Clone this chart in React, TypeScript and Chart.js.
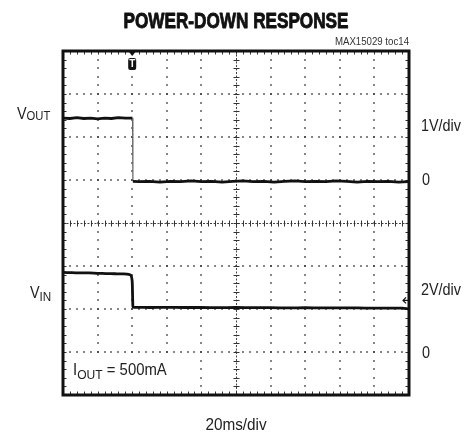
import React, { useEffect, useRef } from "react";
import { Chart, registerables } from "chart.js";

Chart.register(...registerables);

const timeMax = 200; // ms, 20ms/div x 10 div
const xDivisions = 10;
const yDivisions = 8;
const triggerTimeMs = 40;

const vOutTimeMs = [
  0, 4, 8, 12, 16, 20, 24, 28, 32, 36, 40.2,
  40.4, 44, 50, 56, 62, 68, 74, 80, 86, 92, 98, 104, 110, 116, 122, 128, 134,
  140, 146, 152, 158, 164, 170, 176, 182, 188, 194, 199.5,
];
const vOutVolts = [
  1.44, 1.43, 1.45, 1.43, 1.44, 1.42, 1.44, 1.43, 1.45, 1.44, 1.44,
  -0.03, -0.04, -0.03, -0.05, -0.03, -0.04, -0.02, -0.04, -0.03, -0.05, -0.03, -0.02, -0.04, -0.03, -0.05, -0.03, -0.02,
  -0.04, -0.03, -0.04, -0.02, -0.03, -0.05, -0.03, -0.04, -0.03, -0.05, -0.04,
];

const vInTimeMs = [
  0, 5, 10, 15, 20, 25, 30, 35, 38, 39.3, 40.0, 40.4,
  41, 45, 50, 60, 70, 80, 90, 100, 110, 120, 130, 140, 150, 160, 170, 180, 190, 196, 199.5,
];
const vInVolts = [
  3.7, 3.69, 3.68, 3.68, 3.66, 3.65, 3.64, 3.63, 3.61, 3.56, 3.3, 2.12,
  2.08, 2.08, 2.07, 2.08, 2.07, 2.07, 2.06, 2.07, 2.06, 2.06, 2.05, 2.06, 2.05, 2.05, 2.05, 2.04, 2.04, 2.04, 2.01,
];

// Channel scales (volts)
const vOutRange = { min: -5, max: 3 }; // 1V/div
const vInRange = { min: -2, max: 14 }; // 2V/div

// ---- Text ----
const titleText = "POWER-DOWN RESPONSE";
const figureIdText = "MAX15029 toc14";
const xScaleText = "20ms/div";
const vOutScaleText = "1V/div";
const vInScaleText = "2V/div";
const zeroText = "0";
const loadText = { main: "I", sub: "OUT", rest: " = 500mA" };
const vOutName = { main: "V", sub: "OUT" };
const vInName = { main: "V", sub: "IN" };

const FONT = "'Liberation Sans', Arial, sans-serif";
const fnt = (size: number, bold = false) => `${bold ? "bold " : ""}${size}px ${FONT}`;

type Part = { text: string; size: number; dy?: number; bold?: boolean };

// Condensed look: draw real text with a horizontal squeeze
function drawRich(
  ctx: CanvasRenderingContext2D,
  parts: Part[],
  x: number,
  y: number,
  align: "left" | "center" | "right" = "left",
  squeeze = 0.9,
  heavy = 0
) {
  let total = 0;
  for (const p of parts) {
    ctx.font = fnt(p.size, p.bold);
    total += ctx.measureText(p.text).width;
  }
  total *= squeeze;
  const start = align === "right" ? x - total : align === "center" ? x - total / 2 : x;
  ctx.save();
  ctx.translate(start, 0);
  ctx.scale(squeeze, 1);
  ctx.textAlign = "left";
  ctx.textBaseline = "alphabetic";
  ctx.strokeStyle = ctx.fillStyle as string;
  ctx.lineWidth = heavy;
  ctx.lineJoin = "round";
  let cx = 0;
  for (const p of parts) {
    ctx.font = fnt(p.size, p.bold);
    ctx.fillText(p.text, cx, y + (p.dy || 0));
    if (heavy > 0) ctx.strokeText(p.text, cx, y + (p.dy || 0));
    cx += ctx.measureText(p.text).width;
  }
  ctx.restore();
}

const graticule = {
  id: "graticule",
  beforeDatasetsDraw(chart: any) {
    const { ctx, chartArea: a } = chart;
    const xs = chart.scales.x;
    const ys = chart.scales.yOut;
    const xAt = (d: number) => xs.getPixelForValue((d * timeMax) / xDivisions);
    const yAt = (d: number) => ys.getPixelForValue(vOutRange.max - (d * (vOutRange.max - vOutRange.min)) / yDivisions);
    ctx.save();
    ctx.fillStyle = "#2a2a2a";
    for (let i = 1; i < xDivisions; i++) {
      if (i === xDivisions / 2) continue;
      const px = Math.round(xAt(i));
      for (let j = 1; j < yDivisions * 5; j++) {
        const py = Math.round(yAt(j / 5));
        ctx.fillRect(px - 0.75, py - 0.75, 1.5, 1.5);
      }
    }
    for (let j = 1; j < yDivisions; j++) {
      if (j === yDivisions / 2) continue;
      const py = Math.round(yAt(j));
      for (let i = 1; i < xDivisions * 5; i++) {
        const px = Math.round(xAt(i / 5));
        ctx.fillRect(px - 0.75, py - 0.75, 1.5, 1.5);
      }
    }
    // white backing box for the load-current annotation
    ctx.fillStyle = "#fff";
    const boxTop = yAt(yDivisions - 1) + 3;
    ctx.fillRect(a.left + 4, boxTop, xAt(3.8) - a.left - 4, a.bottom - 5 - boxTop);

    const cx = Math.round(xAt(xDivisions / 2)) + 0.5;
    const cy = Math.round(yAt(yDivisions / 2)) + 0.5;
    ctx.strokeStyle = "#444";
    ctx.lineWidth = 1;
    ctx.setLineDash([2, 1.5]);
    ctx.beginPath();
    ctx.moveTo(cx, a.top);
    ctx.lineTo(cx, a.bottom);
    ctx.moveTo(a.left, cy);
    ctx.lineTo(a.right, cy);
    ctx.stroke();
    ctx.setLineDash([]);
    ctx.strokeStyle = "#333";
    ctx.beginPath();
    for (let j = 1; j < yDivisions * 5; j++) {
      const py = Math.round(yAt(j / 5)) + 0.5;
      ctx.moveTo(cx - 3, py);
      ctx.lineTo(cx + 3, py);
    }
    for (let i = 1; i < xDivisions * 5; i++) {
      const px = Math.round(xAt(i / 5)) + 0.5;
      ctx.moveTo(px, cy - 3);
      ctx.lineTo(px, cy + 3);
    }
    for (let i = 1; i < xDivisions * 5; i++) {
      const px = Math.round(xAt(i / 5)) + 0.5;
      ctx.moveTo(px, a.top);
      ctx.lineTo(px, a.top + 3.5);
      ctx.moveTo(px, a.bottom);
      ctx.lineTo(px, a.bottom - 3.5);
    }
    for (let j = 1; j < yDivisions * 5; j++) {
      const py = Math.round(yAt(j / 5)) + 0.5;
      ctx.moveTo(a.left, py);
      ctx.lineTo(a.left + 3.5, py);
      ctx.moveTo(a.right, py);
      ctx.lineTo(a.right - 3.5, py);
    }
    ctx.stroke();
    ctx.restore();
  },
  afterDatasetsDraw(chart: any) {
    const { ctx, chartArea: a } = chart;
    const xs = chart.scales.x;
    const yo = chart.scales.yOut;
    const yi = chart.scales.yIn;
    ctx.save();
    ctx.strokeStyle = "#111";
    ctx.lineWidth = 3;
    ctx.strokeRect(a.left, a.top, a.right - a.left, a.bottom - a.top);

    // trigger marker
    const tx = xs.getPixelForValue(triggerTimeMs);
    ctx.fillStyle = "#111";
    ctx.beginPath();
    ctx.moveTo(tx - 4, a.top);
    ctx.lineTo(tx + 4, a.top);
    ctx.lineTo(tx, a.top + 5);
    ctx.closePath();
    ctx.fill();
    ctx.beginPath();
    (ctx as any).roundRect(tx - 4, a.top + 7, 8, 12, 2);
    ctx.fill();
    ctx.fillStyle = "#fff";
    ctx.font = "bold 10px 'Liberation Sans', sans-serif";
    ctx.textAlign = "center";
    ctx.textBaseline = "middle";
    ctx.fillText("T", tx, a.top + 13.5);

    // VIN reference marker on right edge
    const my = yi.getPixelForValue(2.4);
    ctx.strokeStyle = "#111";
    ctx.lineWidth = 1.2;
    ctx.beginPath();
    ctx.moveTo(a.right - 3, my - 3);
    ctx.lineTo(a.right - 6, my);
    ctx.lineTo(a.right - 3, my + 3);
    ctx.moveTo(a.right - 6, my);
    ctx.lineTo(a.right, my);
    ctx.stroke();

    // texts
    ctx.fillStyle = "#111";
    drawRich(ctx, [{ text: titleText, size: 22, bold: true }], (a.left + a.right) / 2, 28, "center", 0.78, 0.9);
    ctx.fillStyle = "#333";
    drawRich(ctx, [{ text: figureIdText, size: 10.5 }], a.right, 45, "right", 0.92);
    ctx.fillStyle = "#222";
    drawRich(ctx, [{ text: vOutName.main, size: 16 }, { text: vOutName.sub, size: 12.5, dy: 1 }], 17, yo.getPixelForValue(1.44) + 1);
    drawRich(ctx, [{ text: vInName.main, size: 16 }, { text: vInName.sub, size: 13, dy: 2.5 }], 30, yi.getPixelForValue(2.6) + 2);
    drawRich(ctx, [{ text: vOutScaleText, size: 16 }], a.right + 12, yo.getPixelForValue(1.2) + 3);
    drawRich(ctx, [{ text: zeroText, size: 16 }], a.right + 13, yo.getPixelForValue(0) + 4.5);
    drawRich(ctx, [{ text: vInScaleText, size: 16 }], a.right + 12, yi.getPixelForValue(3) + 7);
    drawRich(ctx, [{ text: zeroText, size: 16 }], a.right + 13, yi.getPixelForValue(0) + 5.5);
    drawRich(
      ctx,
      [
        { text: loadText.main, size: 16 },
        { text: loadText.sub, size: 13, dy: 3.5 },
        { text: loadText.rest, size: 16 },
      ],
      a.left + 10,
      a.bottom - 20,
      "left",
      0.93
    );
    drawRich(ctx, [{ text: xScaleText, size: 17 }], (a.left + a.right) / 2, 430, "center", 0.9);
    ctx.restore();
  },
};

const isVertical = (c: any) => Math.abs(c.p1.parsed.x - c.p0.parsed.x) < 0.3;

export default function App() {
  const ref = useRef<HTMLCanvasElement>(null);
  useEffect(() => {
    if (!ref.current) return;
    const chart = new Chart(ref.current, {
      type: "line",
      data: {
        datasets: [
          {
            label: "VOUT",
            data: vOutTimeMs.map((t, i) => ({ x: t, y: vOutVolts[i] })),
            yAxisID: "yOut",
            borderColor: "#111",
            borderWidth: 2.8,
            pointRadius: 0,
            tension: 0,
            segment: {
              borderWidth: (c: any) => (isVertical(c) ? 1.2 : 2.8),
              borderColor: (c: any) => (isVertical(c) ? "#666" : "#111"),
            },
          },
          {
            label: "VIN",
            data: vInTimeMs.map((t, i) => ({ x: t, y: vInVolts[i] })),
            yAxisID: "yIn",
            borderColor: "#111",
            borderWidth: 2.8,
            pointRadius: 0,
            tension: 0.2,
          },
        ],
      },
      options: {
        responsive: false,
        animation: false,
        events: [],
        layout: { padding: { left: 63, right: 63, top: 51, bottom: 38 } },
        plugins: { legend: { display: false }, tooltip: { enabled: false }, title: { display: false } },
        scales: {
          x: { type: "linear", min: 0, max: timeMax, display: false },
          yOut: { type: "linear", min: vOutRange.min, max: vOutRange.max, display: false },
          yIn: { type: "linear", min: vInRange.min, max: vInRange.max, display: false },
        },
      },
      plugins: [graticule],
    });
    return () => chart.destroy();
  }, []);
  return (
    <div style={{ position: "fixed", left: 0, top: 0, width: 472, height: 433, background: "#fff" }}>
      <canvas ref={ref} width={472} height={433} />
    </div>
  );
}
